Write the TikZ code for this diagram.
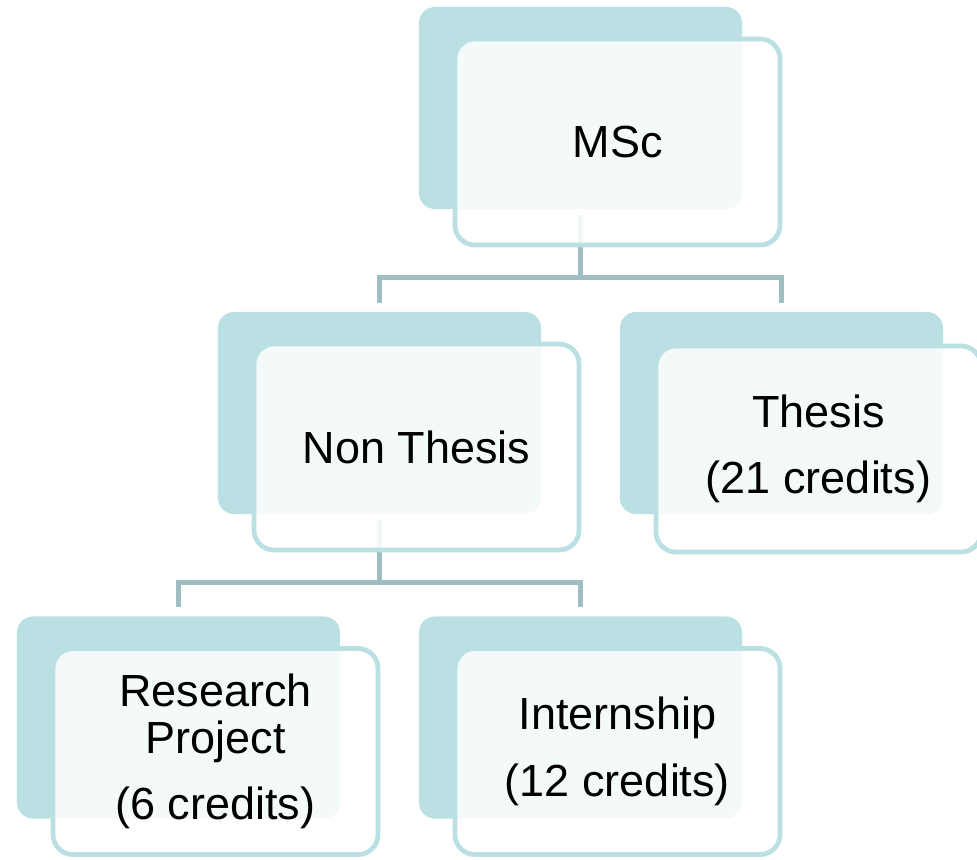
\documentclass[tikz,border=0pt]{standalone}
\usepackage{fontspec}
\setmainfont{Liberation Sans}
\usepackage{xcolor,tikz}
\usetikzlibrary{positioning}
\definecolor{shade}{HTML}{BBE0E3}
\definecolor{linkc}{HTML}{9FBEC1}

\begin{document}
\begin{tikzpicture}[
    x=0.025cm,
    y=-0.025cm,
    font=\fontsize{32}{33.4}\selectfont,
    back/.style={
        fill=shade,
        rounded corners=0.4cm,
        minimum width=8.075cm,
        minimum height=5.05cm,
        inner sep=0pt
    },
    front/.style={
        draw=shade,
        line width=3.4pt,
        fill=white,
        fill opacity=0.85,
        text opacity=1,
        rounded corners=0.5cm,
        align=center,
        minimum width=8.125cm,
        minimum height=5.15cm,
        inner sep=0pt
    },
    link/.style={
        draw=linkc,
        line width=3.6pt,
        shorten <=0.15cm,
        shorten >=0.225cm
    }
]

\useasboundingbox (0,0) rectangle (977,859);

% back plates
\node[back] (mscb) at (580.5,108) {};
\node[back] (nthb) at (379.5,413) {};
\node[back] (thsb) at (781.5,413) {};
\node[back] (resb) at (178.5,717.5) {};
\node[back] (intb) at (580.5,717.5) {};

% tree lines
\draw[link] (mscb.south) -- ++(0,68) -| (nthb.north);
\draw[link] (mscb.south) -- ++(0,68) -| (thsb.north);
\draw[link] (nthb.south) -- ++(0,68) -| (resb.north);
\draw[link] (nthb.south) -- ++(0,68) -| (intb.north);

% front cards
\node[front] (msc) at ([shift={(0.925cm,-0.85cm)}]mscb.center)
{MSc};

\node[front] (nth) at ([shift={(0.925cm,-0.85cm)}]nthb.center)
{Non Thesis};

\node[front] (ths) at ([shift={(0.925cm,-0.9cm)}]thsb.center)
{Thesis\\[14pt](21 credits)};

\node[front] (res) at ([shift={(0.925cm,-0.85cm)}]resb.center)
{Research\\Project\\[14pt](6 credits)};

\node[front] (int) at ([shift={(0.925cm,-0.85cm)}]intb.center)
{Internship\\[14pt](12 credits)};

\end{tikzpicture}
\end{document}
